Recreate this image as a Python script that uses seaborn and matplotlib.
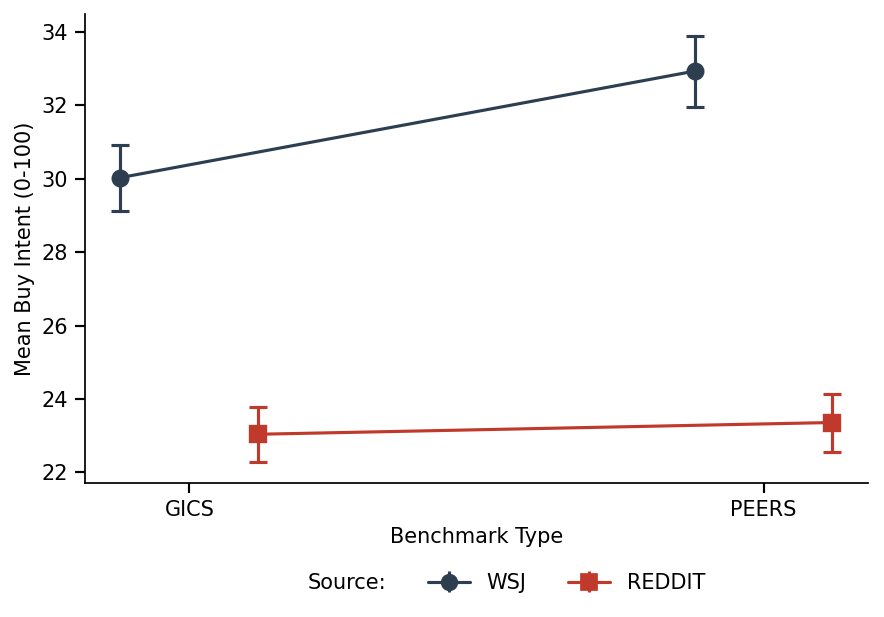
import matplotlib
matplotlib.use("Agg")
import matplotlib.pyplot as plt
from matplotlib.lines import Line2D
import seaborn as sns
import numpy as np
import pandas as pd

# Values
benchmarks = ["GICS", "PEERS"]
sources = ["WSJ", "REDDIT"]
wsj_means = [30.03, 32.93]
wsj_err = [0.90, 0.97]
reddit_means = [23.04, 23.36]
reddit_err = [0.75, 0.79]

colors = {"WSJ": "#2c3e50", "REDDIT": "#c0392b"}
markers = {"WSJ": "o", "REDDIT": "s"}
dodge = 0.24

df = pd.DataFrame(
    {
        "Benchmark Type": benchmarks * 2,
        "Source": ["WSJ"] * 2 + ["REDDIT"] * 2,
        "mean": wsj_means + reddit_means,
        "err": wsj_err + reddit_err,
    }
)

sns.set_theme(style="ticks")
plt.rcParams["font.family"] = ["DejaVu Sans"]
plt.rcParams["text.color"] = "black"
plt.rcParams["axes.labelcolor"] = "black"
plt.rcParams["xtick.color"] = "black"
plt.rcParams["ytick.color"] = "black"

fig, ax = plt.subplots(figsize=(7.072, 4.936), dpi=125)
fig.subplots_adjust(left=0.096, right=0.982, top=0.977, bottom=0.217)

sns.pointplot(
    data=df,
    x="Benchmark Type",
    y="mean",
    hue="Source",
    hue_order=sources,
    order=benchmarks,
    palette=colors,
    markers=[markers[s] for s in sources],
    linestyles=["-", "-"],
    dodge=dodge,
    errorbar=None,
    markersize=9,
    linewidth=1.8,
    legend=False,
    ax=ax,
)

# error bars, at the same dodged positions
base = np.arange(len(benchmarks))
offsets = {"WSJ": -dodge / 2, "REDDIT": dodge / 2}
handles = [Line2D([], [], linestyle="none", marker=None)]
labels = ["Source:"]
for s in sources:
    sub = df[df["Source"] == s]
    ax.errorbar(
        base + offsets[s],
        sub["mean"],
        yerr=sub["err"],
        fmt="none",
        ecolor=colors[s],
        elinewidth=1.8,
        capsize=5,
        capthick=1.8,
        zorder=1,
    )
    h = ax.errorbar(
        [], [], yerr=[], fmt="-" + markers[s], color=colors[s],
        markersize=9, linewidth=1.8, capsize=5, capthick=1.8,
    )
    handles.append(h)
    labels.append(s)

ax.set_xlabel("Benchmark Type", fontsize=12)
ax.set_ylabel("Mean Buy Intent (0-100)", fontsize=12)
ax.tick_params(labelsize=12)
for sp in ["left", "bottom"]:
    ax.spines[sp].set_color("black")
    ax.spines[sp].set_linewidth(1.0)
sns.despine(ax=ax)

fig.legend(
    handles,
    labels,
    loc="center",
    bbox_to_anchor=(0.54, 0.055),
    ncol=3,
    frameon=False,
    fontsize=12,
)

fig.savefig("out.png", dpi=125)
